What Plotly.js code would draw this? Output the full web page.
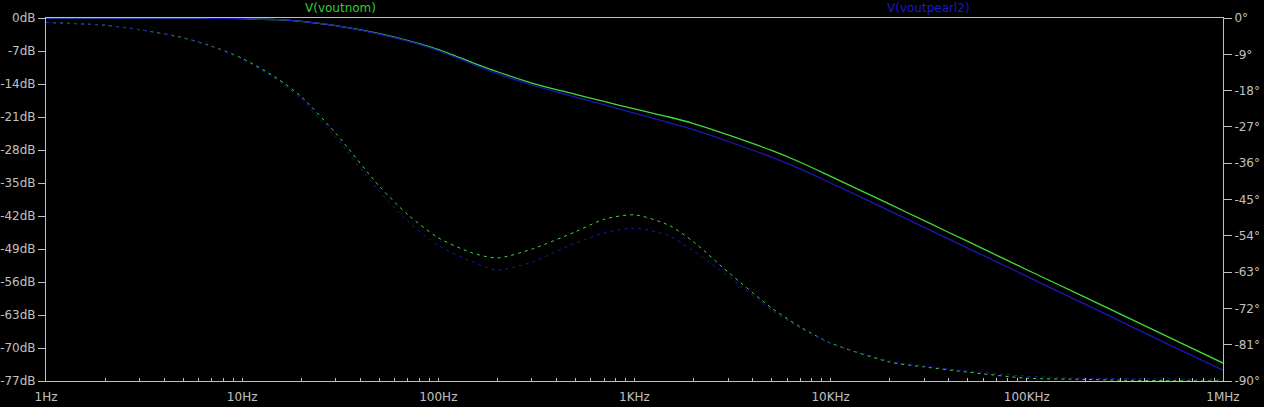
<!DOCTYPE html>
<html>
<head>
<meta charset="utf-8">
<script src="https://cdn.plot.ly/plotly-3.0.1.min.js"></script>
<style>
  html, body { margin: 0; padding: 0; background: #000; }
  #chart { width: 1264px; height: 407px; }
</style>
</head>
<body>
<div id="chart"></div>
<script>
// Frequency points (Hz)
const freq = [1,2,3,5,7,10,15,20,30,50,70,100,150,200,300,500,700,1000,1500,2000,3000,5000,7000,10000,20000,30000,50000,100000,200000,300000,500000,1000000];

// Magnitude (dB) - solid
const magNom    = [0,0,0,-0.02,-0.05,-0.15,-0.35,-0.7,-1.6,-3.3,-4.8,-6.7,-9.5,-11.4,-13.8,-16.2,-17.7,-19.3,-21.0,-22.4,-24.8,-28.1,-30.6,-33.6,-39.5,-43.0,-47.4,-53.4,-59.3,-62.8,-67.2,-73.2];
const magPearl2 = [0,0,0,-0.02,-0.05,-0.15,-0.35,-0.7,-1.6,-3.4,-4.9,-6.9,-9.8,-11.8,-14.2,-16.8,-18.4,-20.2,-22.2,-23.7,-26.2,-29.5,-32.0,-35.0,-40.9,-44.4,-48.8,-54.8,-60.8,-64.3,-68.8,-74.7];

// Phase (degrees) - dashed
const phaseNom    = [-1.1,-1.8,-2.9,-4.9,-7.0,-10.0,-14.9,-19.5,-28.6,-41.7,-48.8,-54.5,-58.3,-59.5,-57.3,-53.0,-49.9,-48.8,-51.4,-55.5,-63.0,-71.9,-76.6,-80.6,-85.3,-86.5,-87.8,-89.3,-89.6,-89.8,-89.9,-90.0];
const phasePearl2 = [-1.1,-1.8,-2.9,-5.0,-7.1,-10.2,-15.3,-20.1,-29.6,-43.0,-50.4,-56.4,-60.5,-62.5,-60.5,-55.8,-53.3,-52.1,-54.0,-57.8,-64.0,-72.4,-76.9,-80.6,-85.0,-86.3,-87.5,-88.8,-89.3,-89.4,-89.5,-89.6];

// Axis ticks
const decadeLabels = ["1Hz","10Hz","100Hz","1KHz","10KHz","100KHz","1MHz"];
const xTickVals = [];
const xTickText = [];
for (let d = 0; d <= 6; d++) {
  for (let m = 1; m <= 9; m++) {
    if (d === 6 && m > 1) break;
    xTickVals.push(m * Math.pow(10, d));
    xTickText.push(m === 1 ? decadeLabels[d] : "");
  }
}
const dbTickVals = [0,-7,-14,-21,-28,-35,-42,-49,-56,-63,-70,-77];
const dbTickText = ["0dB","-7dB","-14dB","-21dB","-28dB","-35dB","-42dB","-49dB","-56dB","-63dB","-70dB","-77dB"];
const degTickVals = [0,-9,-18,-27,-36,-45,-54,-63,-72,-81,-90];
const degTickText = ["0°","-9°","-18°","-27°","-36°","-45°","-54°","-63°","-72°","-81°","-90°"];

const seriesNames = ["V(voutnom)", "V(voutpearl2)"];
const GREEN = "#3fdc3f";
const BLUE = "#1818b8";
const GRAY = "#c0c0c0";

const traces = [
  {x: freq, y: phaseNom, yaxis: "y2", mode: "lines", line: {color: GREEN, width: 1, dash: "3px,4px", shape: "spline", smoothing: 0.7}, name: seriesNames[0]},
  {x: freq, y: phasePearl2, yaxis: "y2", mode: "lines", line: {color: BLUE, width: 1, dash: "3px,4px", shape: "spline", smoothing: 0.7}, name: seriesNames[1]},
  {x: freq, y: magNom, mode: "lines", line: {color: GREEN, width: 1.3, shape: "spline", smoothing: 0.7}, name: seriesNames[0]},
  {x: freq, y: magPearl2, mode: "lines", line: {color: BLUE, width: 1.3, shape: "spline", smoothing: 0.7}, name: seriesNames[1]}
];

const tickFont = {family: "DejaVu Sans, sans-serif", size: 12, color: GRAY};

const layout = {
  width: 1264, height: 407,
  paper_bgcolor: "#000", plot_bgcolor: "#000",
  margin: {l: 46, r: 41, t: 18, b: 26, pad: 0},
  showlegend: false,
  xaxis: {
    type: "log", range: [0, 6],
    tickmode: "array", tickvals: xTickVals, ticktext: xTickText,
    ticks: "inside", ticklen: 3, tickcolor: GRAY, tickwidth: 1,
    ticklabelstandoff: 5,
    showline: true, linecolor: GRAY, linewidth: 1, mirror: true,
    showgrid: false, zeroline: false,
    tickfont: tickFont
  },
  yaxis: {
    range: [-77, 0],
    tickmode: "array", tickvals: dbTickVals, ticktext: dbTickText,
    ticks: "outside", ticklen: 7, tickcolor: GRAY, tickwidth: 1,
    showline: true, linecolor: GRAY, linewidth: 1,
    showgrid: false, zeroline: false,
    tickfont: tickFont
  },
  yaxis2: {
    range: [-90, 0], overlaying: "y", side: "right",
    tickmode: "array", tickvals: degTickVals, ticktext: degTickText,
    ticks: "outside", ticklen: 8, tickcolor: GRAY, tickwidth: 1,
    showline: true, linecolor: GRAY, linewidth: 1,
    showgrid: false, zeroline: false,
    tickfont: tickFont
  },
  annotations: [
    {text: seriesNames[0], xref: "paper", yref: "paper", x: 0.25, y: 1.028, xanchor: "center", yanchor: "middle", showarrow: false, font: {family: "DejaVu Sans, sans-serif", size: 12, color: "#33cc33"}},
    {text: seriesNames[1], xref: "paper", yref: "paper", x: 0.75, y: 1.028, xanchor: "center", yanchor: "middle", showarrow: false, font: {family: "DejaVu Sans, sans-serif", size: 12, color: "#1a1acc"}}
  ]
};

Plotly.newPlot("chart", traces, layout, {displayModeBar: false, staticPlot: true});
</script>
</body>
</html>
